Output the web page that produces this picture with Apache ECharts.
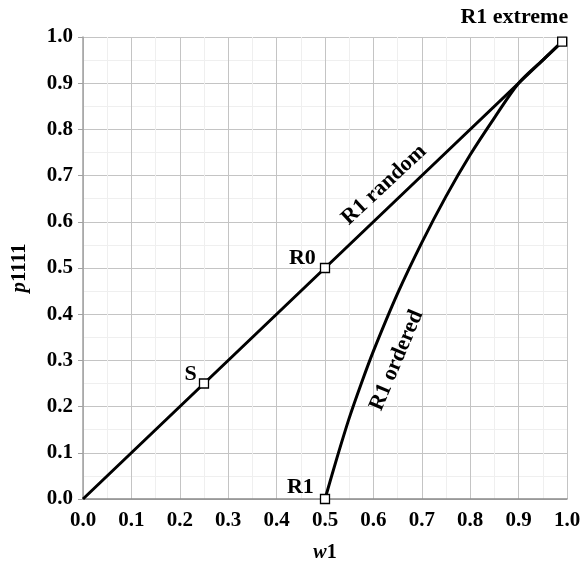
<!DOCTYPE html>
<html>
<head>
<meta charset="utf-8">
<script src="https://cdn.jsdelivr.net/npm/echarts@6/dist/echarts.min.js"></script>
<style>html,body{margin:0;padding:0;background:#fff}#c{width:584px;height:568px}</style>
</head>
<body>
<div id="c"></div>
<script>
// R1 random: straight line from origin to the R1 extreme point
const randomW = [0, 0.25, 0.5, 0.75, 0.99];
const randomP = [0, 0.25, 0.5, 0.75, 0.99];
// R1 ordered curve
const orderedW = [0.5, 0.525, 0.55, 0.575, 0.6, 0.65, 0.7, 0.75, 0.8, 0.85, 0.9, 0.95, 0.99];
const orderedP = [0, 0.09, 0.175, 0.25, 0.32, 0.445, 0.555, 0.655, 0.745, 0.825, 0.90, 0.95, 0.99];
// Marked points
const pointNames = ['S', 'R0', 'R1', 'R1 extreme'];
const pointW = [0.25, 0.5, 0.5, 0.99];
const pointP = [0.25, 0.5, 0, 0.99];
// Curve labels
const curveLabels = ['R1 random', 'R1 ordered'];
const curveLabelW = [0.622, 0.648];
const curveLabelP = [0.68, 0.30];
const curveLabelAngle = [43, 67];
const ticks = [0, 0.1, 0.2, 0.3, 0.4, 0.5, 0.6, 0.7, 0.8, 0.9, 1.0];

const FONT = '"Liberation Serif", "Times New Roman", serif';
const zip = (a, b) => a.map((v, i) => [v, b[i]]);
const TXT = {color: '#000', fontFamily: FONT, fontWeight: 'bold', fontSize: 21};
const ANN = {color: '#000', fontFamily: FONT, fontWeight: 'bold', fontSize: 22};

const labelPos = {
  'S': {position: 'left', offset: [2, -9]},
  'R0': {position: 'left', offset: [0, -10]},
  'R1': {position: 'left', offset: [-2, -12]},
  'R1 extreme': {position: 'top', align: 'right', offset: [6, -4]}
};

const chart = echarts.init(document.getElementById('c'));
const axisCommon = {
  type: 'value', min: 0, max: 1, interval: 0.1,
  axisLabel: Object.assign({}, TXT, {formatter: v => v.toFixed(1)}),
  splitLine: {show: true, lineStyle: {color: '#c4c4c4', width: 1}},
  minorTick: {show: false, splitNumber: 2},
  minorSplitLine: {show: true, lineStyle: {color: '#efefef', width: 1}}
};
chart.setOption({
  animation: false,
  backgroundColor: '#fff',
  grid: {left: 83, right: 17, top: 37, bottom: 60},
  xAxis: Object.assign({}, axisCommon, {
    name: '{i|w}{b|1}',
    nameLocation: 'middle',
    nameGap: 44,
    nameTextStyle: {
      rich: {
        i: Object.assign({}, TXT, {fontStyle: 'italic', fontSize: 20}),
        b: Object.assign({}, TXT, {fontSize: 20})
      }
    },
    axisLine: {show: true, lineStyle: {color: '#8a8a8a', width: 1.5}},
    axisTick: {show: false},
    axisLabel: Object.assign({}, axisCommon.axisLabel, {margin: 11})
  }),
  yAxis: Object.assign({}, axisCommon, {
    name: '{i|p}{b|1111}',
    nameLocation: 'middle',
    nameGap: 53,
    nameRotate: 90,
    nameTextStyle: {
      rich: {
        i: Object.assign({}, TXT, {fontStyle: 'italic'}),
        b: TXT
      }
    },
    axisLine: {show: true, lineStyle: {color: '#a0a0a0', width: 1.5}},
    axisTick: {show: true, inside: false, length: 5, lineStyle: {color: '#a0a0a0'}},
    axisLabel: Object.assign({}, axisCommon.axisLabel, {margin: 10})
  }),
  series: [
    {
      type: 'line', name: 'R1 random', data: zip(randomW, randomP),
      showSymbol: false, symbol: 'none',
      lineStyle: {color: '#000', width: 3}, z: 3
    },
    {
      type: 'line', name: 'R1 ordered', data: zip(orderedW, orderedP),
      showSymbol: false, symbol: 'none', smooth: 0.3,
      lineStyle: {color: '#000', width: 3}, z: 3
    },
    {
      type: 'scatter', name: 'points',
      data: pointNames.map((n, i) => ({
        name: n, value: [pointW[i], pointP[i]],
        label: Object.assign({show: true, formatter: n, distance: 4}, ANN, labelPos[n])
      })),
      symbol: 'rect', symbolSize: 9,
      itemStyle: {color: '#fff', borderColor: '#000', borderWidth: 1.3, opacity: 1},
      emphasis: {disabled: true},
      z: 5
    },
    {
      type: 'scatter', name: 'curve labels',
      data: curveLabels.map((n, i) => ({
        name: n, value: [curveLabelW[i], curveLabelP[i]],
        label: Object.assign({show: true, formatter: n, rotate: curveLabelAngle[i], position: 'inside'}, ANN)
      })),
      symbol: 'circle', symbolSize: 0,
      itemStyle: {color: '#000', opacity: 1},
      emphasis: {disabled: true},
      z: 6
    }
  ]
});
</script>
</body>
</html>
